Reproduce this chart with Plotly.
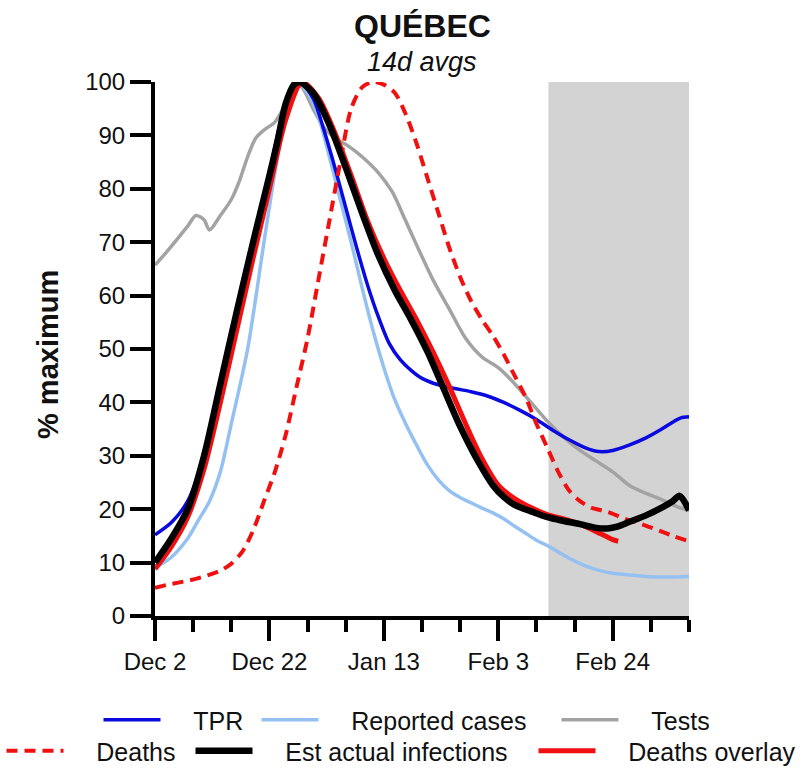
import plotly.graph_objects as go

# x = days since Dec 2
tick_days = [0, 21, 42, 63, 84]
tick_labels = ["Dec 2", "Dec 22", "Jan 13", "Feb 3", "Feb 24"]

tpr_days = [0, 3, 6, 9, 12, 15, 18, 21, 24, 26.5, 29, 31, 33, 35, 37, 39, 41, 43, 45, 47, 49, 52, 55, 58, 61, 64, 67, 70, 73, 76, 79, 81.5, 84, 87, 90, 93, 95, 96.5, 98]
tpr_vals = [15.2, 17.5, 21.5, 30, 43.5, 57, 70, 83, 96, 100, 97, 91, 84, 76.5, 69, 62, 56, 51, 48, 46, 44.5, 43.3, 42.6, 42, 41.2, 40, 38.5, 36.8, 34.8, 33, 31.5, 30.8, 31, 32, 33.3, 35, 36.3, 37.1, 37.3]

cases_days = [0, 3, 6, 8, 10, 12, 14, 17, 20, 22, 24, 26, 28, 30, 32, 34, 36, 38, 40, 42, 44, 46, 48, 50, 52, 54, 56, 58, 60, 62, 64, 66, 68, 70, 72, 74, 76, 78, 80, 82, 84, 87, 90, 94, 98]
cases_vals = [9, 11, 14.5, 18, 21.5, 27, 36, 50, 70, 83, 94, 100, 98, 93.5, 86, 78, 70, 61.5, 53.5, 46.5, 40.5, 36, 32, 28.3, 25.5, 23.5, 22.2, 21.2, 20.2, 19.3, 18.2, 16.8, 15.5, 14.2, 13.2, 12, 10.8, 9.8, 9, 8.4, 8, 7.7, 7.4, 7.3, 7.4]

tests_days = [0, 2, 4, 6, 7.5, 9, 10, 12, 14, 15.5, 17, 18.5, 20, 22, 24, 25.5, 27, 29, 31, 33, 35.5, 38, 41, 43.5, 46, 48, 51, 54, 57, 60, 63, 66, 69, 72, 75, 78, 81, 84, 87, 90, 93, 96, 98]
tests_vals = [65.7, 68, 70.5, 73, 75, 74.2, 72.3, 75, 78, 81.5, 86, 89.5, 91, 92.5, 96, 100, 99, 95, 91.5, 89.5, 88, 86, 83, 79.5, 74, 69.5, 63, 57.5, 52, 48.5, 46.5, 43.5, 40, 36.5, 33.5, 31, 29, 27, 24.5, 23, 21.8, 20.4, 19.8]

deaths_days = [0, 3, 6, 9, 12, 14, 16, 18, 20, 22, 24, 26, 28, 30, 32, 34, 36, 38, 40, 42, 44, 46, 48, 50, 52, 54, 56, 58, 60, 62, 64, 66, 68, 70, 72, 74, 76, 78, 80, 83, 86, 89, 92, 95, 98]
deaths_vals = [5.3, 6, 6.6, 7.4, 8.5, 9.8, 12, 16, 21.5, 27, 34, 43, 52, 63, 74, 85, 95, 99, 100, 99.5, 98, 94, 88.5, 82, 75.5, 69, 63.5, 59, 55.5, 52.5, 49, 45, 41, 36, 31.5, 27, 23.5, 21.5, 20.3, 19.5, 18.3, 17.3, 16.2, 15, 14]

infect_days = [0, 3, 6, 9, 12, 15, 18, 21, 22.5, 24, 25.5, 26.5, 29, 32, 35, 38, 41, 44, 47, 50, 53, 56, 59, 62, 64, 66, 69, 72, 75, 78, 81, 83, 85, 87, 90, 93, 95, 96.3, 98]
infect_vals = [10, 14.5, 20, 30, 43.5, 57, 70, 82.5, 89, 96, 99.5, 100, 98, 92, 84, 75.5, 67.5, 61, 55.5, 49.5, 42.5, 35.5, 29.5, 24.5, 22.3, 20.8, 19.6, 18.5, 17.8, 17.2, 16.5, 16.4, 16.8, 17.6, 18.8, 20.3, 21.5, 22.5, 19.8]

overlay_days = [0, 3, 6, 9, 12, 15, 18, 21, 24, 27, 30, 33, 36, 39, 42, 45, 48, 51, 54, 57, 60, 63, 66, 69, 72, 75, 78, 81, 84, 85]
overlay_vals = [8.8, 13, 18.5, 27.5, 40, 53.5, 67, 80, 93, 100, 97, 90.5, 82.5, 74, 67, 61, 55.5, 49.5, 43, 36, 29.5, 24.5, 22, 20.3, 19, 18.2, 17.2, 15.8, 14.3, 14]

shade_start = 72.2
shade_end = 98

FONT = "Arial, Liberation Sans, sans-serif"

def px_x(p):
    return (p - 155) / 534.0

def px_y(p):
    return (616 - p) / 534.0

fig = go.Figure()

series = [
    ("Tests", tests_days, tests_vals, dict(color="#a3a3a3", width=3.5), "legend3"),
    ("Reported cases", cases_days, cases_vals, dict(color="#94c1f2", width=3.5), "legend2"),
    ("TPR", tpr_days, tpr_vals, dict(color="#0a0ae0", width=3.5), "legend"),
    ("Deaths", deaths_days, deaths_vals, dict(color="#f01010", width=4, dash="11px,7px"), "legend4"),
    ("Deaths overlay", overlay_days, overlay_vals, dict(color="#f01010", width=5), "legend6"),
    ("Est actual infections", infect_days, infect_vals, dict(color="#000000", width=6.5), "legend5"),
]
for name, xs, ys, line, lg in series:
    fig.add_trace(go.Scatter(x=xs, y=ys, mode="lines", name="\u00a0\u00a0\u00a0\u00a0" + name,
                             line=dict(shape="spline", smoothing=0.8, **line), legend=lg))

fig.add_shape(type="rect", xref="x", yref="y", x0=shade_start, x1=shade_end, y0=0, y1=100,
              fillcolor="#d3d3d3", line=dict(width=0), layer="below")

legend_pos = {
    "legend": (105, 721), "legend2": (263, 721), "legend3": (563, 721),
    "legend4": (8, 752), "legend5": (197, 752), "legend6": (540, 752),
}
leg_layout = {}
for k, (lx, ly) in legend_pos.items():
    leg_layout[k] = dict(x=px_x(lx - 6.5), y=px_y(ly - 1), xanchor="left", yanchor="middle",
                         orientation="h", itemwidth=57, bgcolor="rgba(0,0,0,0)",
                         font=dict(family=FONT, size=25, color="#111"))

fig.update_layout(
    width=800, height=768,
    margin=dict(l=155, r=111, t=82, b=152, autoexpand=False),
    plot_bgcolor="white", paper_bgcolor="white",
    showlegend=True,
    font=dict(family=FONT, size=24, color="#111"),
    **leg_layout,
    xaxis=dict(range=[0, 98], showline=True, linewidth=4, linecolor="black", mirror=False,
               ticks="outside", ticklen=21, tickwidth=4, tickcolor="black",
               tickvals=tick_days, ticktext=tick_labels, showgrid=False, zeroline=False,
               tickfont=dict(family=FONT, size=24, color="#111"),
               minor=dict(tick0=0, dtick=7, ticks="outside", ticklen=12, tickwidth=4, tickcolor="black", showgrid=False)),
    yaxis=dict(range=[0, 100], showline=True, linewidth=4, linecolor="black",
               ticks="outside", ticklen=21, tickwidth=4, tickcolor="black", dtick=10,
               showgrid=False, zeroline=False,
               tickfont=dict(family=FONT, size=24, color="#111")),
    annotations=[
        dict(text="<b>QUÉBEC</b>", x=px_x(422.5), y=px_y(26), xref="paper", yref="paper", showarrow=False,
             xanchor="center", yanchor="middle", font=dict(family=FONT, size=32, color="#111")),
        dict(text="<i>14d avgs</i>", x=px_x(422), y=px_y(62), xref="paper", yref="paper", showarrow=False,
             xanchor="center", yanchor="middle", font=dict(family=FONT, size=27, color="#111")),
        dict(text="<b>% maximum</b>", x=px_x(48), y=px_y(355), xref="paper", yref="paper", showarrow=False,
             textangle=-90, xanchor="center", yanchor="middle", font=dict(family=FONT, size=29, color="#111")),
    ],
)

fig.write_html("out.html", config={"displayModeBar": False},
               post_script="document.body.style.margin='0';document.body.style.overflow='hidden';")
